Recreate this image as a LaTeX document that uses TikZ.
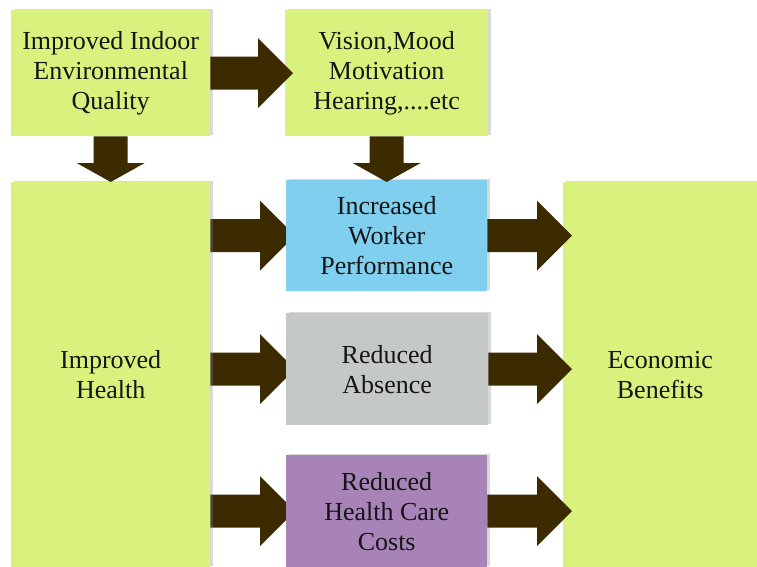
\documentclass[tikz,border=0pt]{standalone}
\usepackage{fontspec}
\setmainfont{Liberation Serif}
\usetikzlibrary{calc,shadows}
\definecolor{boxgreen}{HTML}{D9F27D}
\definecolor{boxblue}{HTML}{80CFEF}
\definecolor{boxgray}{HTML}{C4C8C7}
\definecolor{boxpurple}{HTML}{A883B7}
\definecolor{arrowc}{HTML}{3D2B00}
\definecolor{txtc}{HTML}{151515}
\pgfdeclarelayer{background}
\pgfsetlayers{background,main}
\tikzset{
  box/.style={rectangle, anchor=north west, inner sep=0pt, align=center,
    text=txtc, font=\fontsize{26}{30}\selectfont,
    drop shadow={shadow xshift=3pt, shadow yshift=1pt, opacity=0.3, fill=gray}},
  arrowfill/.style={fill=arrowc}
}
% horizontal block arrow: #1 start point, #2 tip point (y taken from tip)
\newcommand\harr[2]{%
  \fill[arrowfill] let \p1=(#1), \p2=(#2) in
    (\x1,\y2+16.5pt) -- (\x2-35pt,\y2+16.5pt) -- (\x2-35pt,\y2+35pt) -- (\x2,\y2)
    -- (\x2-35pt,\y2-35pt) -- (\x2-35pt,\y2-16.5pt) -- (\x1,\y2-16.5pt) -- cycle;}
% vertical block arrow (downwards): #1 start point, #2 tip point (x taken from start)
\newcommand\varr[2]{%
  \fill[arrowfill] let \p1=(#1), \p2=(#2) in
    (\x1-17pt,\y1) -- (\x1-17pt,\y2+19pt) -- (\x1-34pt,\y2+19pt) -- (\x1,\y2)
    -- (\x1+34pt,\y2+19pt) -- (\x1+17pt,\y2+19pt) -- (\x1+17pt,\y1) -- cycle;}
\begin{document}
\begin{tikzpicture}[x=1pt,y=-1pt]
\useasboundingbox (0,0) rectangle (757,567);
\node[box, fill=boxgreen, minimum width=199pt, minimum height=126pt] (A) at (11,10)
  {Improved Indoor\\Environmental\\Quality};
\node[box, fill=boxgreen, minimum width=203pt, minimum height=126pt] (B) at (285,10)
  {Vision,Mood\\Motivation\\Hearing,....etc};
\node[box, fill=boxgreen, minimum width=199pt, minimum height=385pt] (C) at (11,182)
  {Improved\\Health};
\node[box, fill=boxblue, minimum width=201pt, minimum height=111pt] (D) at (286,180)
  {Increased\\Worker\\Performance};
\node[box, fill=boxgray, minimum width=202pt, minimum height=112pt] (E) at (286,313)
  {Reduced\\Absence};
\node[box, fill=boxpurple, minimum width=201pt, minimum height=112pt] (F) at (286,455)
  {Reduced\\Health Care\\Costs};
\node[box, fill=boxgreen, minimum width=194pt, minimum height=385pt] (G) at (563,182)
  {Economic\\Benefits};
% arrows on top
\harr{A.east}{$(B.west|-A.east)+(8pt,0)$}
\varr{A.south}{A.south|-C.north}
\varr{B.south}{B.south|-C.north}
\harr{D.east}{$(G.west|-D.east)+(9pt,0)$}
\harr{E.east}{$(G.west|-E.east)+(9pt,0)$}
\harr{F.east}{$(G.west|-F.east)+(9pt,0)$}
% arrows behind the middle boxes
\begin{pgfonlayer}{background}
\harr{C.east}{$(D.west)+(9pt,0)$}
\harr{C.east}{$(E.west)+(9pt,0)$}
\harr{C.east}{$(F.west)+(9pt,0)$}
\end{pgfonlayer}
\end{tikzpicture}
\end{document}
